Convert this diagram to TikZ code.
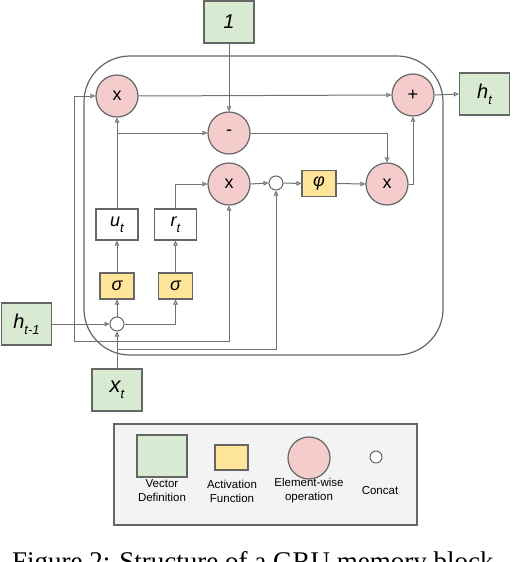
\documentclass[tikz,border=0pt]{standalone}
\usepackage{fontspec}
\setmainfont{Liberation Sans}
\newfontfamily\capfont{Liberation Serif}
\usetikzlibrary{arrows.meta}
\definecolor{vecgreen}{HTML}{D9EAD3}
\definecolor{actyellow}{HTML}{FFE599}
\definecolor{oppink}{HTML}{F4CCCC}
\definecolor{bordc}{HTML}{666666}
\definecolor{linec}{HTML}{707070}
\definecolor{legbg}{HTML}{F3F3F3}
\newcommand{\mysub}[2]{#1\raisebox{-6pt}{\fontsize{13}{13}\selectfont #2}}
\begin{document}
\begin{tikzpicture}[x=1pt,y=-1pt,
  vecbox/.style={draw=bordc, line width=1.2pt, fill=vecgreen, minimum width=50pt, minimum height=42pt, inner sep=0pt, font=\fontsize{20}{22}\selectfont\itshape},
  gatebox/.style={draw=bordc, line width=1.2pt, fill=white, minimum width=42pt, minimum height=31pt, inner sep=0pt, font=\fontsize{18}{20}\selectfont\itshape},
  actbox/.style={draw=bordc, line width=1.2pt, fill=actyellow, minimum width=34pt, minimum height=26pt, inner sep=0pt, font=\fontsize{18}{20}\selectfont\itshape},
  opcirc/.style={circle, draw=bordc, line width=1.2pt, fill=oppink, minimum size=42pt, inner sep=0pt, font=\fontsize{18}{20}\selectfont},
  catcirc/.style={circle, draw=bordc, line width=1pt, fill=white, minimum size=14pt, inner sep=0pt},
  arr/.style={draw=linec, line width=1pt, -{Triangle[open, length=5pt, width=4.5pt]}},
  legtext/.style={font=\fontsize{11.5}{14}\selectfont, align=center, inner sep=0pt}
]
\useasboundingbox (0,0) rectangle (512,562);

% outer block
\draw[draw=bordc, line width=1.2pt, rounded corners=46pt] (84,56) rectangle (443,355);

% nodes
\node[vecbox] (one) at (229,22) {1};
\node[vecbox] (ht) at (484.5,94) {\mysub{h}{t}};
\node[vecbox] (hprev) at (26.5,324) {\mysub{h}{t-1}};
\node[vecbox, font=\fontsize{22}{24}\selectfont\itshape] (xt) at (117,390) {\mysub{x}{t}};

\node[opcirc] (xtl) at (117,96) {x};
\node[opcirc] (minus) at (229,133) {-};
\node[opcirc] (xmid) at (229,184) {x};
\node[opcirc] (plus) at (413,95) {+};
\node[opcirc] (xright) at (387,184) {x};

\node[catcirc] (cat2) at (276,183) {};
\node[catcirc] (cat1) at (117,324) {};

\node[actbox] (phi) at (319,183.5) {φ};
\node[actbox] (sig1) at (117,286) {σ};
\node[actbox] (sig2) at (175.5,286) {σ};

\node[gatebox] (ut) at (117,224.5) {\mysub{u}{t}};
\node[gatebox] (rt) at (175.5,224.5) {\mysub{r}{t}};

% junction points
\coordinate (jh) at (74,324);
\coordinate (hb) at (74,341);
\coordinate (jx) at (117,349);
\coordinate (ju) at (117,133);

% connectors
\draw[arr] (one.south) -- (minus.north);
\draw[arr] (hprev.east) -- (cat1.west);
\draw[arr] (jh) |- (xtl.west);
\draw[arr] (jh) -- (hb) -| (xmid.south);
\draw[arr] (xt.north) -- (cat1.south);
\draw[arr] (jx) -| (cat2.south);
\draw[arr] (cat1.north) -- (sig1.south);
\draw[arr] (cat1.east) -| (sig2.south);
\draw[arr] (sig1.north) -- (ut.south);
\draw[arr] (sig2.north) -- (rt.south);
\draw[arr] (ut.north) -- (xtl.south);
\draw[arr] (ju) -- (minus.west);
\draw[arr] (rt.north) |- (xmid.west);
\draw[arr] (xmid.east) -- (cat2.west);
\draw[arr] (cat2.east) -- (phi.west);
\draw[arr] (phi.east) -- (xright.west);
\draw[arr] (minus.east) -| (xright.north);
\draw[arr] (xtl.east) -- (plus.west);
\draw[arr] (xright.east) -| (plus.south);
\draw[arr] (plus.east) -- (ht.west);

% legend
\node[draw=bordc, line width=1.2pt, fill=legbg, minimum width=303pt, minimum height=101pt, inner sep=0pt] (legend) at (265.5,474.5) {};
\node[vecbox] (lvec) at (162,456) {};
\node[actbox, minimum width=33pt, minimum height=25pt] (lact) at (231.5,457.5) {};
\node[opcirc] (lop) at (309,458) {};
\node[catcirc, minimum size=12pt] (lcat) at (376,457) {};
\node[legtext] (tvec) at (162,491) {Vector\\Definition};
\node[legtext] (tact) at (232,491) {Activation\\Function};
\node[legtext] (top) at (309,491) {Element-wise\\operation};
\node[legtext] (tcat) at (380,491) {Concat};

% caption (cut off at the bottom edge, as in the reference)
\node[anchor=base west, inner sep=0pt, font=\capfont\fontsize{27}{30}\selectfont] (cap) at (12,570) {Figure 2: Structure of a GRU memory block};
\end{tikzpicture}
\end{document}
